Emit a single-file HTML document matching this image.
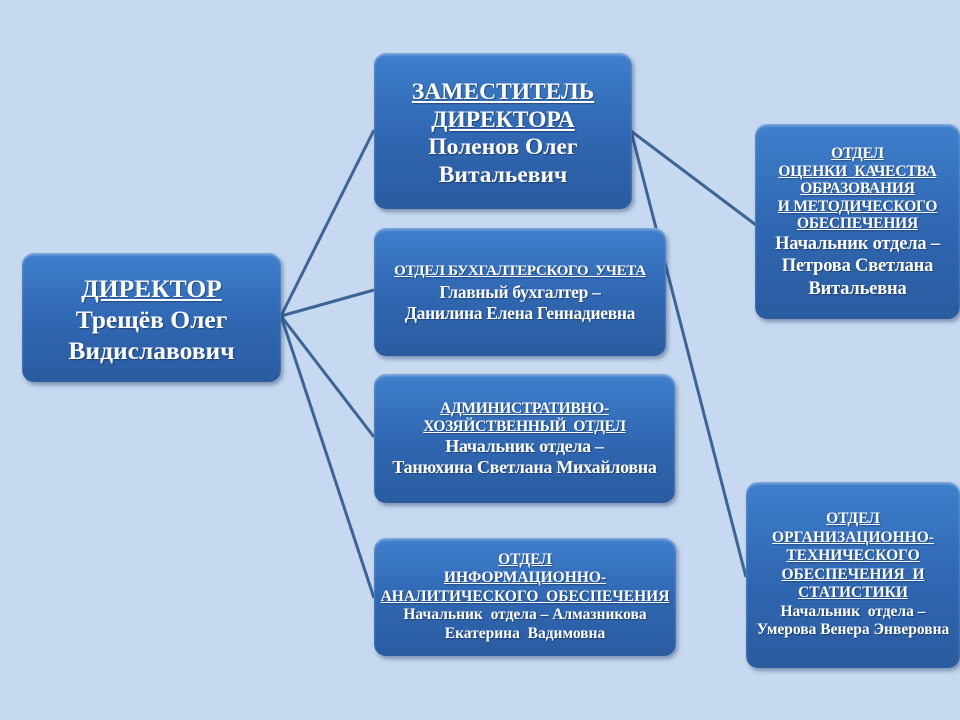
<!DOCTYPE html>
<html><head><meta charset="utf-8"><style>
html,body{margin:0;padding:0}
body{width:960px;height:720px;background:#c6d9f0;position:relative;overflow:hidden;font-family:"Liberation Serif",serif;}
svg{position:absolute;left:0;top:0}
.b{position:absolute;box-sizing:border-box;border-radius:12px;background:linear-gradient(180deg,#3f7fcc 0%,#3068b3 50%,#2a5b9f 100%);box-shadow:2px 3px 4px rgba(40,60,100,.45), inset 0 2px 2px rgba(255,255,255,.35);color:#fff;font-weight:bold;text-align:center;display:flex;flex-direction:column;justify-content:center;text-shadow:1px 1px 1px rgba(0,0,0,.35);white-space:nowrap;}
u{text-decoration:underline;}
</style></head><body>
<svg width="960" height="720">
<g stroke="#3c6496" stroke-width="3" fill="none">
<line x1="281" y1="316" x2="374" y2="130"/>
<line x1="281" y1="316" x2="374" y2="290"/>
<line x1="281" y1="316" x2="374" y2="437"/>
<line x1="281" y1="316" x2="374" y2="598"/>
<line x1="631" y1="131" x2="756" y2="225"/>
<line x1="631" y1="131" x2="746" y2="577"/>
</g></svg>
<div class="b" style="left:22px;top:253px;width:259px;height:129px;font-size:25.5px;line-height:31px;padding-top:3px"><div><u>ДИРЕКТОР</u></div><div>Трещёв Олег</div><div>Видиславович</div></div>
<div class="b" style="left:374px;top:53px;width:258px;height:156px;font-size:23.5px;line-height:27.5px;padding-top:6px"><div><u>ЗАМЕСТИТЕЛЬ</u></div><div><u>ДИРЕКТОРА</u></div><div>Поленов Олег</div><div>Витальевич</div></div>
<div class="b" style="left:374px;top:228px;width:292px;height:128px;font-size:17.5px;line-height:21px;letter-spacing:-0.3px"><div style="font-size:15px"><u>ОТДЕЛ БУХГАЛТЕРСКОГО&nbsp; УЧЕТА</u></div><div>Главный бухгалтер –</div><div>Данилина Елена Геннадиевна</div></div>
<div class="b" style="left:374px;top:374px;width:301px;height:129px;font-size:18px;line-height:20.5px;letter-spacing:-0.3px"><div style="font-size:15.5px;line-height:18px"><u>АДМИНИСТРАТИВНО-</u></div><div style="font-size:15.5px;line-height:18px"><u>ХОЗЯЙСТВЕННЫЙ&nbsp; ОТДЕЛ</u></div><div>Начальник отдела –</div><div>Танюхина Светлана Михайловна</div></div>
<div class="b" style="left:374px;top:538px;width:302px;height:118px;font-size:15.5px;line-height:18.5px;"><div><u>ОТДЕЛ</u></div><div><u>ИНФОРМАЦИОННО-</u></div><div><u>АНАЛИТИЧЕСКОГО&nbsp; ОБЕСПЕЧЕНИЯ</u></div><div>Начальник&nbsp; отдела – Алмазникова</div><div>Екатерина&nbsp; Вадимовна</div></div>
<div class="b" style="left:755px;top:124px;width:205px;height:195px;font-size:18.5px;line-height:22.5px;padding-top:2px;letter-spacing:-0.2px"><div style="font-size:15.5px;line-height:17.5px"><u>ОТДЕЛ</u><br><u>ОЦЕНКИ&nbsp; КАЧЕСТВА</u><br><u>ОБРАЗОВАНИЯ</u><br><u>И МЕТОДИЧЕСКОГО</u><br><u>ОБЕСПЕЧЕНИЯ</u></div><div>Начальник отдела –</div><div>Петрова Светлана</div><div>Витальевна</div></div>
<div class="b" style="left:746px;top:482px;width:214px;height:186px;font-size:15.5px;line-height:18.5px;"><div><u>ОТДЕЛ</u></div><div><u>ОРГАНИЗАЦИОННО-</u></div><div><u>ТЕХНИЧЕСКОГО</u></div><div><u>ОБЕСПЕЧЕНИЯ&nbsp; И</u></div><div><u>СТАТИСТИКИ</u></div><div>Начальник&nbsp; отдела –</div><div>Умерова Венера Энверовна</div></div>
</body></html>
